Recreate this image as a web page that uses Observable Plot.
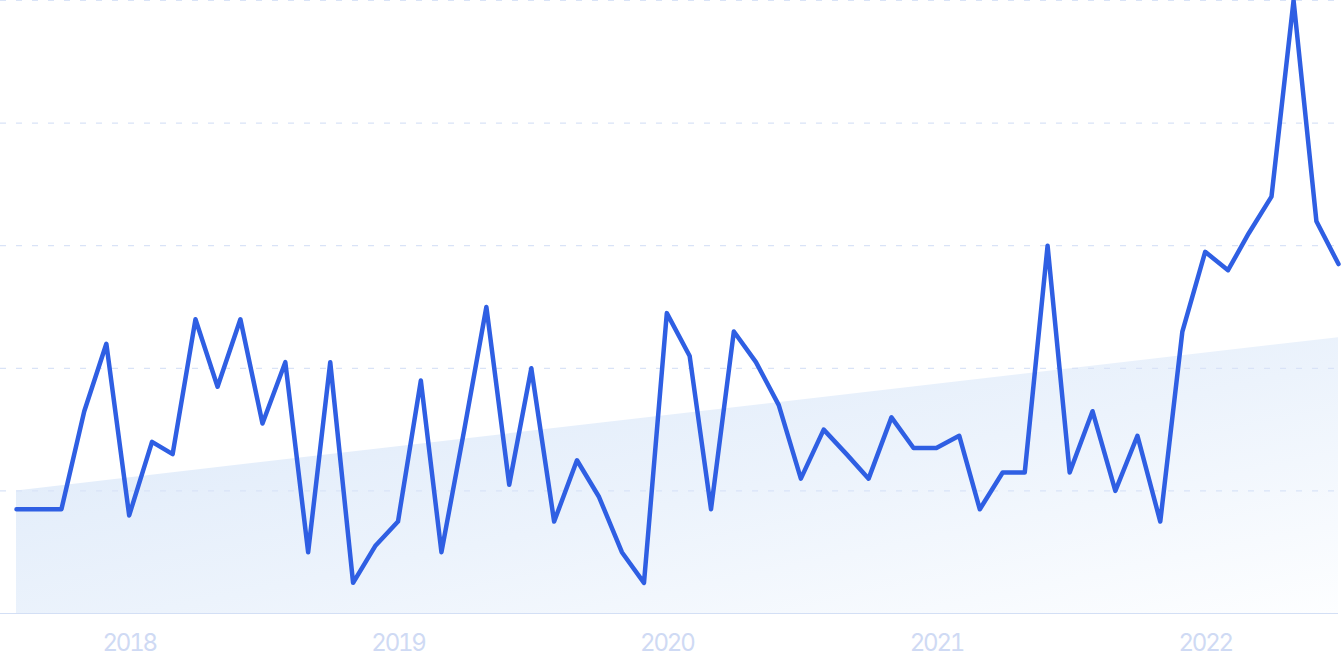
<!DOCTYPE html>
<html>
<head>
<meta charset="utf-8">
<script src="https://cdn.jsdelivr.net/npm/d3@7"></script>
<script src="https://cdn.jsdelivr.net/npm/@observablehq/plot@0.6"></script>
<style>
  html, body { margin: 0; padding: 0; background: #ffffff; }
  #chart { width: 1343px; height: 671px; overflow: hidden; }
  #chart svg g[aria-label="x-axis tick label"] text { letter-spacing: -2.2px; }
</style>
</head>
<body>
<div id="chart"></div>
<script>
// Monthly interest index, Aug 2017 – Jul 2022
const startMonth = "2017-08-01";
const endMonth = "2022-07-01";
const values = [
  17, 17, 17, 33, 44, 16, 28, 26, 48, 37, 48, 31,
  41, 10, 41, 5, 11, 15, 38, 10, 30, 50, 21, 40,
  15, 25, 19, 10, 5, 49, 42, 17, 46, 41, 34, 22,
  30, 26, 22, 32, 27, 27, 29, 17, 23, 23, 60, 23,
  33, 20, 29, 15, 46, 59, 56, 62, 68, 100, 64, 57
];
// Trend line (start and end of the shaded area)
const trendValues = [20, 45];
const gridValues = [20, 40, 60, 80, 100];
const tickYears = ["2018", "2019", "2020", "2021", "2022"];

const months = d3.utcMonth.range(new Date(startMonth), d3.utcMonth.offset(new Date(endMonth), 1));
const series = months.map((d, i) => ({date: d, value: values[i]}));
const trend = [
  {date: months[0], value: trendValues[0]},
  {date: months[months.length - 1], value: trendValues[1]}
];
const tickDates = tickYears.map(y => new Date(y + "-01-01"));

const defs = () => {
  const svgNS = "http://www.w3.org/2000/svg";
  const g = document.createElementNS(svgNS, "defs");
  g.innerHTML = `<linearGradient id="trendGrad" x1="0" y1="0" x2="1" y2="1">
      <stop offset="0" stop-color="#dbe8f9"/>
      <stop offset="0.55" stop-color="#ecf3fc"/>
      <stop offset="1" stop-color="#fdfeff"/>
    </linearGradient>`;
  return g;
};

const chart = Plot.plot({
  width: 1343,
  height: 671,
  marginLeft: 16,
  marginRight: 5,
  marginTop: 0,
  marginBottom: 58,
  style: {fontFamily: "Inter, sans-serif", background: "#ffffff", overflow: "hidden"},
  x: {type: "utc", domain: [months[0], months[months.length - 1]], label: null},
  y: {domain: [0, 100], axis: null},
  marks: [
    defs,
    Plot.areaY(trend, {x: "date", y: "value", fill: "url(#trendGrad)"}),
    Plot.ruleY(gridValues, {stroke: "#d9e3f7", strokeWidth: 1.2, strokeDasharray: "6,10", insetLeft: -16}),
    Plot.ruleY([0], {stroke: "#d3dff5", strokeWidth: 1.2, insetLeft: -16}),
    Plot.axisX({
      ticks: tickDates,
      tickFormat: d3.utcFormat("%Y"),
      tickSize: 0,
      tickPadding: 20,
      fontSize: 24,
      color: "#cfdaf4",
      label: null
    }),
    Plot.lineY(series, {x: "date", y: "value", stroke: "#2f5fe3", strokeWidth: 4.5, strokeLinejoin: "round", strokeLinecap: "round"})
  ]
});
document.getElementById("chart").appendChild(chart);
</script>
</body>
</html>
